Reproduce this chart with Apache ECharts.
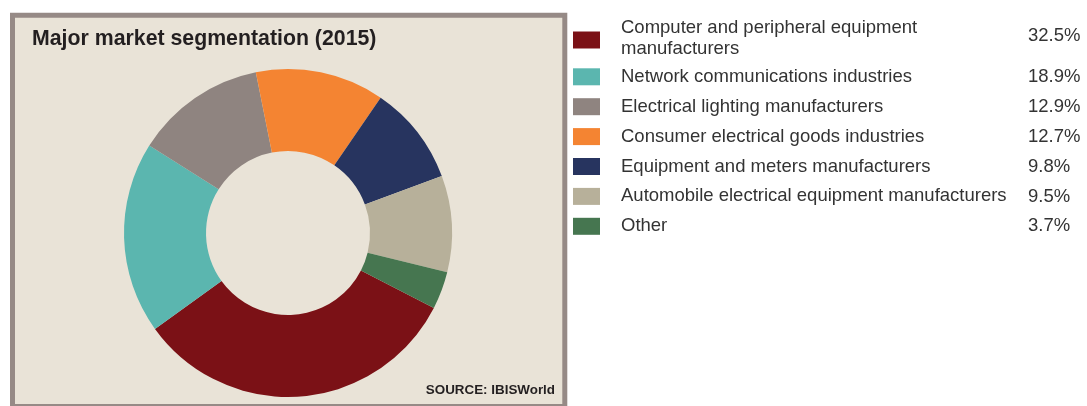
<!DOCTYPE html>
<html>
<head>
<meta charset="utf-8">
<title>Major market segmentation (2015)</title>
<script src="https://cdn.jsdelivr.net/npm/echarts@6/dist/echarts.min.js"></script>
<style>
  html, body { margin: 0; padding: 0; background: #ffffff; }
  #chart { width: 1087px; height: 406px; }
</style>
</head>
<body>
<div id="chart"></div>
<script>
// Market segments, share of revenue (%)
const segments = [
  'Computer and peripheral equipment manufacturers',
  'Network communications industries',
  'Electrical lighting manufacturers',
  'Consumer electrical goods industries',
  'Equipment and meters manufacturers',
  'Automobile electrical equipment manufacturers',
  'Other'
];
const shares = [32.5, 18.9, 12.9, 12.7, 9.8, 9.5, 3.7];
const segmentColors = ['#7B1116', '#5BB6AF', '#8F8480', '#F48432', '#27345F', '#B7B09A', '#467650'];

const FONT = '"Liberation Sans", Arial, Helvetica, sans-serif';
const TEXT_COLOR = '#333333';

// legend layout
const ROW1_Y = 36;        // centre of the two-line first row
const ROW_Y0 = 77.3;      // centre of the second row
const ROW_STEP = 29.8;
const PCT_X = 1028;

const pctTexts = shares.map(function (v, i) {
  const y = i === 0 ? ROW1_Y : ROW_Y0 + (i - 1) * ROW_STEP;
  return {
    type: 'text',
    left: PCT_X,
    top: y - 10,
    style: {
      text: v.toFixed(1) + '%',
      font: '18.5px ' + FONT,
      fill: TEXT_COLOR,
      lineHeight: 20,
      height: 20,
      verticalAlign: 'middle'
    },
    silent: true
  };
});

const chart = echarts.init(document.getElementById('chart'), null, { renderer: 'canvas' });

const legendCommon = {
  orient: 'vertical',
  left: 573,
  padding: 0,
  itemWidth: 27,
  itemHeight: 17,
  icon: 'rect',
  selectedMode: true,
  textStyle: {
    fontFamily: FONT,
    fontSize: 18.5,
    color: TEXT_COLOR,
    rich: {
      // first line sits slightly above the swatch, second line below it
      n: { fontFamily: FONT, fontSize: 18.5, color: TEXT_COLOR, lineHeight: 17, padding: [0, 0, 0, 16] },
      n2: { fontFamily: FONT, fontSize: 18.5, color: TEXT_COLOR, lineHeight: 25, padding: [0, 0, 0, 16] },
      s: { fontFamily: FONT, fontSize: 18.5, color: TEXT_COLOR, lineHeight: 20, padding: [0, 0, 0, 16] }
    }
  }
};

chart.setOption({
  animation: false,
  backgroundColor: '#ffffff',
  color: segmentColors,
  title: {
    text: 'Major market segmentation (2015)',
    left: 32,
    top: 29,
    padding: 0,
    textStyle: {
      fontFamily: FONT,
      fontSize: 21.3,
      fontWeight: 'bold',
      color: '#231F20'
    }
  },
  graphic: [
    {
      type: 'rect',
      z: -10,
      silent: true,
      shape: { x: 12.5, y: 15.2, width: 552.3, height: 391.3 },
      style: { fill: '#E9E3D7', stroke: '#968A86', lineWidth: 5 }
    },
    {
      type: 'text',
      right: 1087 - 555,
      top: 384,
      silent: true,
      style: {
        text: 'SOURCE: IBISWorld',
        font: 'bold 13.4px ' + FONT,
        fill: '#231F20'
      }
    }
  ].concat(pctTexts),
  legend: [
    Object.assign({}, legendCommon, {
      top: 18,
      data: [segments[0]],
      formatter: function () {
        return '{n|Computer and peripheral equipment}\n{n2|manufacturers}';
      }
    }),
    Object.assign({}, legendCommon, {
      top: ROW_Y0 - 10,
      itemGap: 10.9,
      data: segments.slice(1),
      formatter: function (name) {
        return '{s|' + name + '}';
      }
    })
  ],
  series: [{
    type: 'pie',
    center: [288, 233],
    radius: [82, 164],
    startAngle: -27.2,
    clockwise: true,
    label: { show: false },
    labelLine: { show: false },
    emphasis: { scale: false },
    itemStyle: { borderWidth: 0 },
    data: segments.map(function (name, i) {
      return { name: name, value: shares[i] };
    })
  }]
});
</script>
</body>
</html>
